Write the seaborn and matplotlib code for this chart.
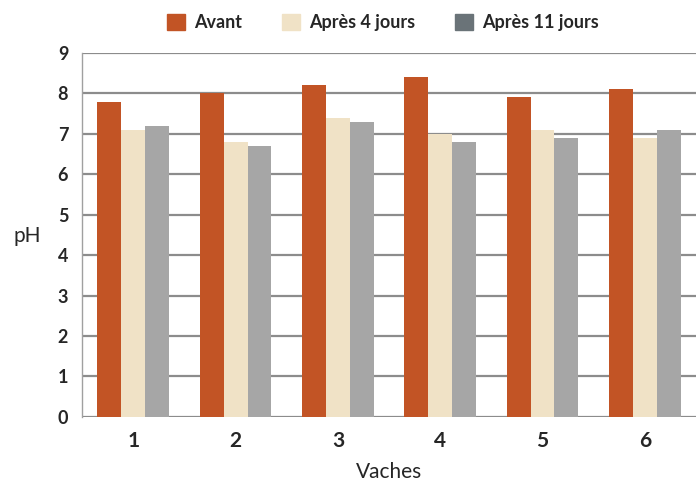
import pandas as pd
import numpy as np
import seaborn as sns
import matplotlib.pyplot as plt
from matplotlib.patches import Patch

vaches = ['1', '2', '3', '4', '5', '6']
avant = [7.8, 8.0, 8.2, 8.4, 7.9, 8.1]
apres_4 = [7.1, 6.8, 7.4, 7.0, 7.1, 6.9]
apres_11 = [7.2, 6.7, 7.3, 6.8, 6.9, 7.1]
series = ['Avant', 'Après 4 jours', 'Après 11 jours']

df = pd.DataFrame({'Vaches': vaches * 3,
                   'pH': avant + apres_4 + apres_11,
                   'Periode': np.repeat(series, len(vaches))})

sns.set_style('white')
plt.rcParams['font.family'] = ['Lato', 'DejaVu Sans']

bar_colors = ['#c25425', '#f0e2c6', '#a6a6a6']
legend_colors = ['#c25425', '#f0e2c6', '#6a7378']

fig = plt.figure(figsize=(6.96, 4.82), dpi=100)
ax = fig.add_axes([0.118, 0.135, 0.882, 0.755])

sns.barplot(data=df, x='Vaches', y='pH', hue='Periode', hue_order=series,
            palette=bar_colors, width=0.7, gap=0, saturation=1,
            linewidth=0, ax=ax, legend=False)

ax.set_ylim(0, 9)
ax.set_xlim(-0.5, 5.5)
ax.set_yticks(range(10))
ax.yaxis.grid(True, color='#8c8c8c', linewidth=1.6)
ax.set_axisbelow(True)
for s in ['top', 'right', 'bottom']:
    ax.spines[s].set_visible(False)
ax.spines['left'].set_color('#a0a0a0')
ax.spines['left'].set_linewidth(1)
ax.tick_params(axis='y', length=8, width=1.6, color='#8c8c8c', pad=2)
ax.tick_params(axis='x', length=0, pad=10)
for lab in ax.get_yticklabels():
    lab.set_fontweight('bold')
    lab.set_fontsize(13)
for lab in ax.get_xticklabels():
    lab.set_fontweight('bold')
    lab.set_fontsize(15)
ax.set_xlabel('Vaches', fontsize=15, labelpad=8)
ax.set_ylabel('pH', fontsize=15, rotation=0)
ax.yaxis.set_label_coords(-0.09, 0.47)

handles = [Patch(color=c) for c in legend_colors]
fig.legend(handles, series, loc='upper center', bbox_to_anchor=(0.55, 1.005),
           ncol=3, frameon=False, prop={'weight': 'bold', 'size': 13},
           handlelength=1.0, handleheight=1.0, columnspacing=2.2, handletextpad=0.5)

fig.savefig('out.png', dpi=100)
